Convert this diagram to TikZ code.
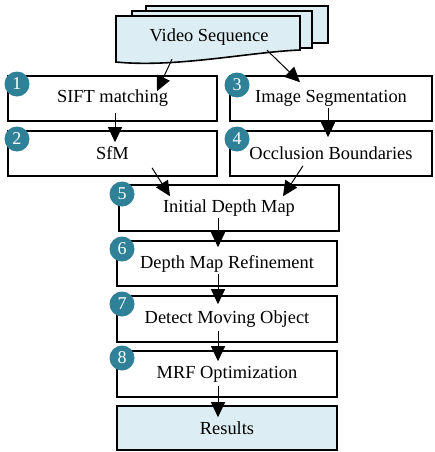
\documentclass[tikz,border=0pt]{standalone}
\usepackage{fontspec}
\setmainfont{Liberation Serif}
\usetikzlibrary{calc,arrows.meta}
\definecolor{badgeteal}{HTML}{2F8197}
\definecolor{paleblue}{HTML}{DCEEF3}
\tikzset{
  stepbox/.style={draw=black, line width=1.6pt, fill=white, minimum height=45pt,
    inner sep=0pt, font=\fontsize{18.4}{22}\selectfont},
  resultbox/.style={stepbox, fill=paleblue},
  badge/.style={circle, fill=badgeteal, minimum size=25pt, inner sep=0pt,
    text=white, font=\fontsize{18}{18}\selectfont},
  page/.style={draw=black, line width=1.6pt, fill=paleblue},
  flow/.style={line width=1pt, -{Triangle[length=15pt,width=14pt]}},
}
\begin{document}
\begin{tikzpicture}[x=1pt,y=-1pt]
  \useasboundingbox (0,0) rectangle (434,452);

  % stacked document pages for the input sequence
  \draw[page] (146,6) -- (328,6) -- (328,43) -- (146,43) -- cycle;
  \draw[page] (132,11) -- (312,11) -- (312,48) -- (132,48) -- cycle;
  \draw[page] (116,16) -- (300,16) -- (300,50)
    .. controls (250,52) and (175,68) .. (116,62) -- cycle;
  \node[minimum width=184pt, minimum height=42pt, inner sep=0pt,
        font=\fontsize{18.4}{22}\selectfont] (video) at (209,37) {Video Sequence};

  % processing steps
  \node[stepbox, minimum width=209pt] (sift) at (112.5,98.5) {SIFT matching};
  \node[stepbox, minimum width=209pt] (sfm)  at (112.5,153.5) {SfM};
  \node[stepbox, minimum width=202pt] (seg)  at (331,98.5) {Image Segmentation};
  \node[stepbox, minimum width=202pt] (occ)  at (331,153.5) {Occlusion Boundaries};
  \node[stepbox, minimum width=220pt, minimum height=46pt] (init) at (229,208) {Initial Depth Map};
  \node[stepbox, minimum width=220pt] (refine) at (227,263.5) {Depth Map Refinement};
  \node[stepbox, minimum width=220pt, minimum height=46pt] (detect) at (227,319) {Detect Moving Object};
  \node[stepbox, minimum width=220pt, minimum height=46pt] (mrf) at (227,374) {MRF Optimization};
  \node[resultbox, minimum width=220pt, minimum height=44pt] (res) at (227,428) {Results};

  % numbered badges
  \node[badge] (b1) at (17,84) {1};
  \node[badge] (b2) at (17,139) {2};
  \node[badge] (b3) at (237,85) {3};
  \node[badge] (b4) at (237,139) {4};
  \node[badge] (b5) at (122,194) {5};
  \node[badge] (b6) at (122,249) {6};
  \node[badge] (b7) at (122,304) {7};
  \node[badge] (b8) at (122,358) {8};

  % data flow
  \draw[flow] ($(video.south)+(-37,1)$) -- ($(sift.north)+(44.5,16)$);
  \draw[flow] ($(video.south)+(58,-8)$) -- ($(seg.north)+(-31,7)$);
  \draw[flow] ($(sift.south)+(2.5,-9)$) -- ($(sfm.north)+(2.5,12)$);
  \draw[flow] ($(seg.south)+(-3,-14)$) -- ($(occ.north)+(-3,7)$);
  \draw[flow] ($(sfm.south)+(39.5,-9)$) -- ($(init.north)+(-59,12)$);
  \draw[flow] ($(occ.south)+(-28,-11)$) -- ($(init.north)+(54,12)$);
  \draw[flow] ($(init.south)+(-11,-14)$) -- ($(refine.north)+(-9,7)$);
  \draw[flow] ($(refine.south)+(-9,-13)$) -- ($(detect.north)+(-9,9)$);
  \draw[flow] ($(detect.south)+(-9,-12)$) -- ($(mrf.north)+(-9,11)$);
  \draw[flow] ($(mrf.south)+(-9,-12)$) -- ($(res.north)+(-9,12)$);
\end{tikzpicture}
\end{document}
